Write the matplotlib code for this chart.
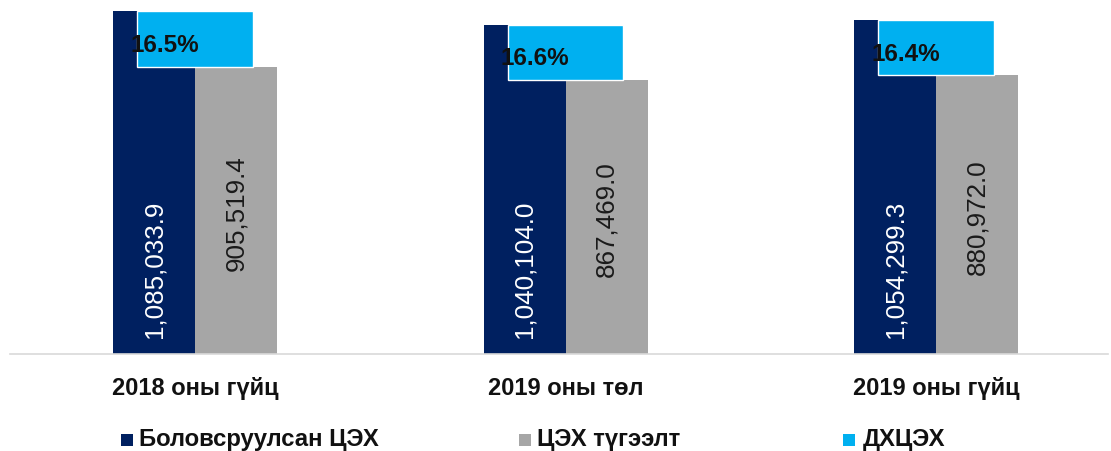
import numpy as np
import matplotlib.pyplot as plt
from matplotlib.patches import Rectangle

plt.rcParams["font.family"] = ["Liberation Sans", "DejaVu Sans"]

categories = ["2018 оны гүйц", "2019 оны төл", "2019 оны гүйц"]
produced = [1085033.9, 1040104.0, 1054299.3]      # Боловсруулсан ЦЭХ
distributed = [905519.4, 867469.0, 880972.0]      # ЦЭХ түгээлт
loss_pct = [16.5, 16.6, 16.4]                     # ДХЦЭХ
legend_labels = ["Боловсруулсан ЦЭХ", "ЦЭХ түгээлт", "ДХЦЭХ"]

NAVY = "#002060"
GRAY = "#A6A6A6"
CYAN = "#00B0F0"


def fmt(v):
    return f"{v:,.1f}"


def main():
    fig = plt.figure(figsize=(11.11, 4.52), dpi=100)
    ax = fig.add_axes([10 / 1111, 97 / 452, 1098 / 1111, 355 / 452])

    x = np.arange(len(categories))
    w = 0.2213

    ax.bar(x - w / 2, produced, w, color=NAVY)
    ax.bar(x + w / 2, distributed, w, color=GRAY)

    # value labels inside bars
    for xi, v in zip(x, produced):
        ax.annotate(fmt(v), (xi - w / 2, 0), xytext=(0, 12), textcoords="offset points",
                    rotation=90, ha="center", va="bottom", color="white", fontsize=18.7)
    for xi, v in zip(x, distributed):
        ax.annotate(fmt(v), (xi + w / 2, v / 2), xytext=(0, -1), textcoords="offset points",
                    rotation=90, ha="center", va="center", color="#1a1a1a", fontsize=18.7)

    # ДХЦЭХ label boxes
    bw = 0.156
    for xi, p, g, pct in zip(x, produced, distributed, loss_pct):
        ax.add_patch(Rectangle((xi - bw, g), 2 * bw, p - g, facecolor=CYAN,
                               edgecolor="white", linewidth=1, zorder=3))
        ax.annotate(f"{pct:.1f}%", (xi - 0.175, (p + g) / 2), xytext=(0, -4),
                    textcoords="offset points", ha="left", va="center",
                    fontsize=17.5, fontweight="bold", color="#111111", zorder=4)

    ax.set_xlim(-0.5, 2.464)
    ax.set_ylim(0, 1.122e6)
    ax.set_yticks([])
    ax.set_xticks(x, categories, fontsize=17, fontweight="bold", color="#111111")
    ax.tick_params(axis="x", length=0, pad=16)
    for s in ["top", "left", "right"]:
        ax.spines[s].set_visible(False)
    ax.spines["bottom"].set_color("#D9D9D9")
    ax.spines["bottom"].set_linewidth(1.2)

    # legend
    marker_x = [121, 519, 843]
    text_x = [139, 537, 863]
    for mx, tx, lab, col in zip(marker_x, text_x, legend_labels, [NAVY, GRAY, CYAN]):
        fig.patches.append(Rectangle((mx / 1111, (452 - 447) / 452), 12 / 1111, 12 / 452,
                                     transform=fig.transFigure, facecolor=col, edgecolor="none"))
        fig.text(tx / 1111, (452 - 440) / 452, lab, ha="left", va="center",
                 fontsize=17.2, fontweight="bold", color="#111111")

    fig.savefig("out.png", dpi=100)


if __name__ == "__main__":
    main()
